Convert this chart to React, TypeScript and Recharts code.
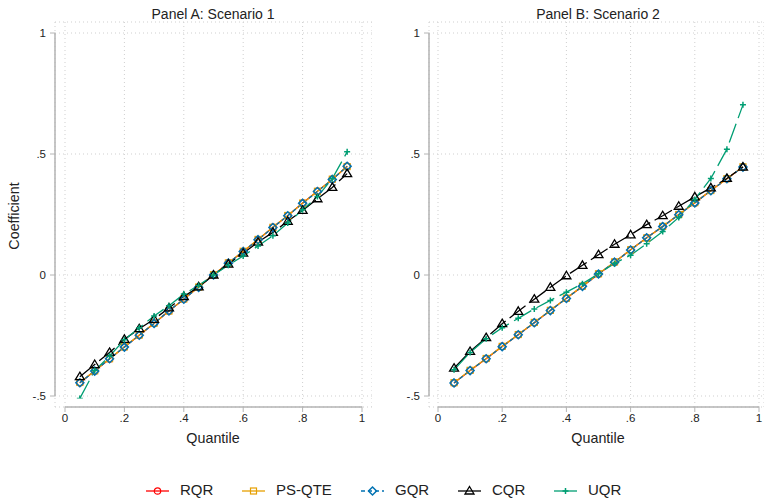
import React from "react";
import { CartesianGrid, Line, LineChart, XAxis, YAxis } from "recharts";

const quantiles = [0.05, 0.1, 0.15, 0.2, 0.25, 0.3, 0.35, 0.4, 0.45, 0.5, 0.55, 0.6, 0.65, 0.7, 0.75, 0.8, 0.85, 0.9, 0.95];

// Panel A: Scenario 1
const rqrA = [-0.445, -0.397, -0.347, -0.298, -0.249, -0.2, -0.149, -0.1, -0.05, 0.0, 0.05, 0.097, 0.146, 0.197, 0.245, 0.297, 0.346, 0.395, 0.449];
const psqteA = [-0.444, -0.396, -0.346, -0.297, -0.248, -0.199, -0.149, -0.099, -0.05, 0.001, 0.05, 0.098, 0.147, 0.197, 0.246, 0.297, 0.346, 0.396, 0.448];
const gqrA = [-0.445, -0.397, -0.346, -0.298, -0.249, -0.2, -0.148, -0.1, -0.051, 0.0, 0.049, 0.097, 0.146, 0.196, 0.245, 0.296, 0.345, 0.395, 0.449];
const cqrA = [-0.42, -0.37, -0.32, -0.266, -0.222, -0.183, -0.136, -0.089, -0.049, 0.0, 0.045, 0.09, 0.136, 0.176, 0.222, 0.267, 0.315, 0.362, 0.419];
const uqrA = [-0.51, -0.395, -0.335, -0.268, -0.218, -0.169, -0.127, -0.079, -0.043, 0.0, 0.04, 0.079, 0.12, 0.162, 0.215, 0.27, 0.324, 0.398, 0.509];

// Panel B: Scenario 2
const rqrB = [-0.446, -0.395, -0.346, -0.295, -0.247, -0.197, -0.147, -0.096, -0.047, 0.004, 0.053, 0.104, 0.154, 0.2, 0.25, 0.298, 0.349, 0.398, 0.446];
const psqteB = [-0.445, -0.394, -0.345, -0.295, -0.246, -0.196, -0.146, -0.096, -0.046, 0.005, 0.054, 0.104, 0.153, 0.201, 0.25, 0.299, 0.349, 0.398, 0.447];
const gqrB = [-0.446, -0.395, -0.346, -0.296, -0.247, -0.197, -0.147, -0.097, -0.047, 0.004, 0.053, 0.103, 0.154, 0.2, 0.249, 0.298, 0.348, 0.398, 0.446];
const cqrB = [-0.385, -0.316, -0.259, -0.201, -0.15, -0.1, -0.051, -0.003, 0.04, 0.084, 0.127, 0.166, 0.208, 0.245, 0.284, 0.323, 0.36, 0.399, 0.446];
const uqrB = [-0.392, -0.32, -0.263, -0.218, -0.179, -0.14, -0.105, -0.071, -0.036, 0.005, 0.048, 0.082, 0.129, 0.18, 0.238, 0.312, 0.399, 0.52, 0.703];

const xTicks = [0, 0.2, 0.4, 0.6, 0.8, 1];
const yTicks = [-0.5, 0, 0.5, 1];

const RED = "#ff0000";
const ORANGE = "#e69f00";
const BLUE = "#0072b2";
const BLACK = "#000000";
const GREEN = "#009e73";
const AXIS = "#b4b4b4";
const FONT = '"Liberation Sans", Arial, sans-serif';

const rows = (r: number[], p: number[], g: number[], c: number[], u: number[]) =>
  quantiles.map((q, i) => ({ q, rqr: r[i], ps: p[i], gqr: g[i], cqr: c[i], uqr: u[i] }));

const dataA = rows(rqrA, psqteA, gqrA, cqrA, uqrA);
const dataB = rows(rqrB, psqteB, gqrB, cqrB, uqrB);

const fmt = (v: number) => (v === 0 ? "0" : String(v).replace("0.", "."));

const circle = (cx: number, cy: number) => <circle cx={cx} cy={cy} r={3.2} stroke={RED} strokeWidth={1.2} fill="none" />;
const square = (cx: number, cy: number) => (
  <rect x={cx - 3} y={cy - 3} width={6} height={6} stroke={ORANGE} strokeWidth={1.2} fill="none" />
);
const diamond = (cx: number, cy: number) => (
  <path d={`M${cx},${cy - 4}L${cx + 4},${cy}L${cx},${cy + 4}L${cx - 4},${cy}Z`} stroke={BLUE} strokeWidth={1.5} fill="none" />
);
const triangle = (cx: number, cy: number) => (
  <path d={`M${cx},${cy - 4.5}L${cx + 4.5},${cy + 3}L${cx - 4.5},${cy + 3}Z`} stroke={BLACK} strokeWidth={1.3} fill="none" />
);
const plus = (cx: number, cy: number) => (
  <path d={`M${cx - 3},${cy}H${cx + 3}M${cx},${cy - 3}V${cy + 3}`} stroke={GREEN} strokeWidth={1.5} fill="none" />
);

const dotOf = (shape: (cx: number, cy: number) => React.ReactElement) => (props: any) => (
  <g key={`d-${props.index}`}>{shape(props.cx, props.cy)}</g>
);

const series = [
  { key: "rqr", name: "RQR", color: RED, dash: undefined as string | undefined, shape: circle },
  { key: "ps", name: "PS-QTE", color: ORANGE, dash: undefined, shape: square },
  { key: "gqr", name: "GQR", color: BLUE, dash: "4 3", shape: diamond },
  { key: "cqr", name: "CQR", color: BLACK, dash: "20 5", shape: triangle },
  { key: "uqr", name: "UQR", color: GREEN, dash: "20 6", shape: plus },
];

type PanelProps = {
  data: any[];
  width: number;
  yAxisWidth: number;
  padLeft: number;
  padRight: number;
};

const TOP = 22;
const PLOT_H = 385;
const PAD_Y = 11;
// domain reaches slightly below -.5 so the lowest UQR point stays visible
const Y_MIN = -0.51;
const PX_PER_UNIT = (PLOT_H - 2 * PAD_Y) / 1.5;
const PAD_BOTTOM = PAD_Y - (-0.5 - Y_MIN) * PX_PER_UNIT;

function Panel({ data, width, yAxisWidth, padLeft, padRight }: PanelProps) {
  const plotW = width - yAxisWidth;
  const dataW = plotW - padLeft - padRight;
  return (
    <LineChart width={width} height={440} data={data} margin={{ top: TOP, right: 0, bottom: 0, left: 0 }}>
      <CartesianGrid stroke="#cfcfcf" strokeDasharray="1 3" />
      <XAxis
        type="number"
        dataKey="q"
        domain={[0, 1]}
        ticks={xTicks}
        tickFormatter={fmt}
        padding={{ left: padLeft, right: padRight }}
        height={33}
        stroke={AXIS}
        tickSize={5}
        tickMargin={2}
        tick={{ fill: "#222", fontSize: 11.5, fontFamily: FONT }}
        axisLine={{ stroke: AXIS, strokeWidth: 1.5, strokeDasharray: `0 ${padLeft} ${dataW} 2000` }}
      />
      <YAxis
        type="number"
        domain={[Y_MIN, 1]}
        allowDataOverflow
        ticks={yTicks}
        tickFormatter={fmt}
        padding={{ top: PAD_Y, bottom: PAD_BOTTOM }}
        width={yAxisWidth}
        stroke={AXIS}
        tickSize={5}
        tickMargin={4}
        tick={{ fill: "#222", fontSize: 11.5, fontFamily: FONT }}
        axisLine={{ stroke: AXIS, strokeWidth: 1.5, strokeDasharray: `0 ${PAD_Y} ${PLOT_H - 2 * PAD_Y} 2000` }}
      />
      {series.map((s) => (
        <Line
          key={s.key}
          type="linear"
          dataKey={s.key}
          name={s.name}
          stroke={s.color}
          strokeWidth={1.3}
          strokeDasharray={s.dash}
          dot={dotOf(s.shape)}
          activeDot={false}
          isAnimationActive={false}
        />
      ))}
    </LineChart>
  );
}

const text = (content: string, left: number, top: number, size: number, rotate = false) => (
  <div
    style={{
      position: "absolute",
      left,
      top,
      fontSize: size,
      color: "#222",
      whiteSpace: "nowrap",
      transform: rotate ? "translate(-50%, -50%) rotate(-90deg)" : "translate(-50%, -50%)",
    }}
  >
    {content}
  </div>
);

const legendPos = [
  { sample: 146, label: 180 },
  { sample: 242, label: 276 },
  { sample: 361, label: 395 },
  { sample: 458, label: 492 },
  { sample: 554, label: 588 },
];

export default function App() {
  return (
    <div style={{ position: "absolute", left: 0, top: 0, width: 764, height: 499, background: "#fff", fontFamily: FONT, overflow: "hidden" }}>
      <div style={{ position: "absolute", left: 0, top: 0 }}>
        <Panel data={dataA} width={372} yAxisWidth={55} padLeft={10} padRight={10} />
      </div>
      <div style={{ position: "absolute", left: 380, top: 0 }}>
        <Panel data={dataB} width={384} yAxisWidth={49} padLeft={9} padRight={5} />
      </div>
      {text("Panel A: Scenario 1", 213, 14, 14)}
      {text("Panel B: Scenario 2", 598, 14, 14)}
      {text("Quantile", 213, 438, 14.3)}
      {text("Quantile", 598, 438, 14.3)}
      {text("Coefficient", 14, 216, 14.3, true)}
      {series.map((s, i) => (
        <React.Fragment key={s.key}>
          <svg style={{ position: "absolute", left: legendPos[i].sample, top: 483 }} width={23} height={16}>
            <line x1={0} y1={8} x2={23} y2={8} stroke={s.color} strokeWidth={1.3} strokeDasharray={s.key === "gqr" ? "4 3" : undefined} />
            {s.shape(11.5, 8)}
          </svg>
          <div style={{ position: "absolute", left: legendPos[i].label, top: 481, fontSize: 15, color: "#222", whiteSpace: "nowrap" }}>
            {s.name}
          </div>
        </React.Fragment>
      ))}
    </div>
  );
}
